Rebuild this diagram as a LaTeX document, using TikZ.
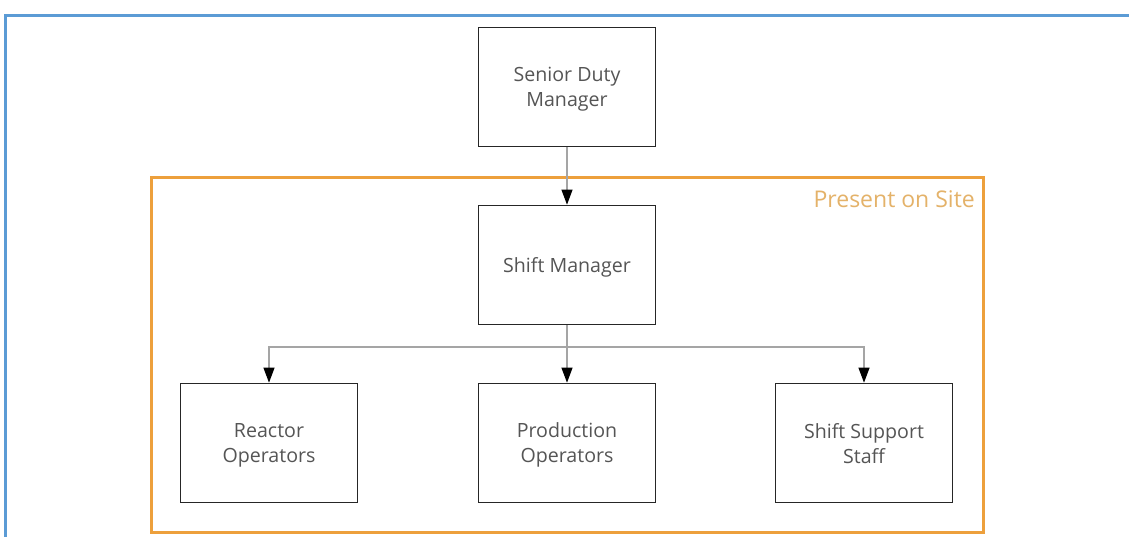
\documentclass[tikz,border=0pt]{standalone}
\usepackage{fontspec}
\setmainfont{Open Sans}
\usetikzlibrary{arrows.meta,positioning}
\definecolor{bordblue}{RGB}{91,155,213}
\definecolor{siteorange}{RGB}{237,160,60}
\definecolor{sitetext}{RGB}{228,178,105}
\definecolor{txtgray}{RGB}{85,85,85}
\definecolor{linegray}{RGB}{165,165,165}
\tikzset{
  rolebox/.style={draw=black!85, line width=1.7pt, fill=white, minimum width=177pt, minimum height=119pt,
    align=center, text=txtgray, font=\fontsize{19.6}{25}\selectfont, inner sep=0pt, text depth=0pt},
  conn/.style={draw=linegray, line width=1.1pt, -{Triangle[width=11pt,length=15pt,color=black]}}
}
\begin{document}
\begin{tikzpicture}[x=1pt,y=-1pt]
\useasboundingbox (0,0) rectangle (1129,536);
\fill[white] (0,0) rectangle (1129,536);
% outer blue frame
\draw[bordblue, line width=3pt] (5,537) -- (5,15) -- (1130,15);
% orange site frame
\draw[siteorange, line width=3pt] (151,177) rectangle (983,532);
\node[anchor=east, text=sitetext, font=\fontsize{23}{28}\selectfont, inner sep=0pt] (site) at (975,199) {Present on Site};
% boxes
\node[rolebox] (sdm) at (567,87) {Senior Duty\\Manager};
\node[rolebox] (sm) at (567,265) {Shift Manager};
\node[rolebox] (ro) at (269,443) {Reactor\\Operators};
\node[rolebox] (po) at (567,443) {Production\\Operators};
\node[rolebox] (sss) at (864,443) {Shift Support\\Staff};
% connectors
\coordinate (bus) at (567,347);
\draw[conn] (sdm.south) -- (sm.north);
\draw[conn] (sm.south) -- (po.north);
\draw[conn] (bus) -| (ro.north);
\draw[conn] (bus) -| (sss.north);
\end{tikzpicture}
\end{document}
